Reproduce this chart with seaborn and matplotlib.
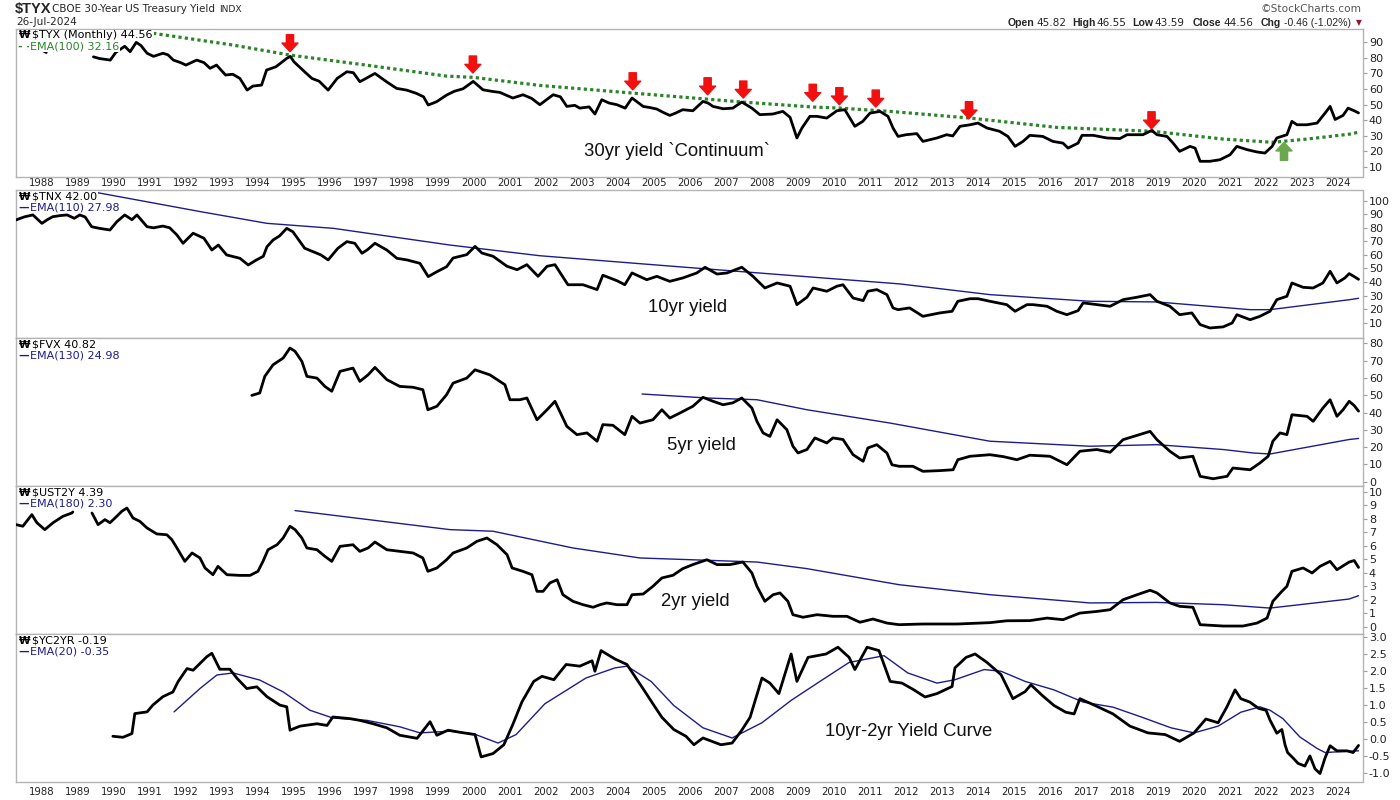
import matplotlib
matplotlib.use("Agg")
import matplotlib.pyplot as plt
import numpy as np
import pandas as pd
import seaborn as sns

# ---------------- data (decimal year, index value) ----------------
# $TYX x10
tyx_early_t = [1988.04, 1988.12]
tyx_early_v = [84.5, 83.5]
tyx_t = [1989.43, 1989.6, 1989.9, 1990.05, 1990.3, 1990.45, 1990.62, 1990.75, 1990.92, 1991.1,
         1991.36, 1991.5, 1991.65, 1991.85, 1992.0, 1992.3, 1992.5, 1992.67, 1992.85, 1993.1,
         1993.3, 1993.5, 1993.7, 1993.86, 1994.1, 1994.24, 1994.5, 1994.8, 1994.9, 1995.0,
         1995.3, 1995.5, 1995.7, 1995.95, 1996.2, 1996.47, 1996.65, 1996.83, 1997.0, 1997.25,
         1997.57, 1997.85, 1998.13, 1998.4, 1998.6, 1998.73, 1998.96, 1999.24, 1999.45, 1999.7,
         1999.98, 2000.25, 2000.5, 2000.72, 2000.9, 2001.08, 2001.36, 2001.6, 2001.83, 2002.2,
         2002.4, 2002.58, 2002.8, 2002.94, 2003.2, 2003.36, 2003.55, 2003.75, 2003.97, 2004.2,
         2004.39, 2004.7, 2004.9, 2005.08, 2005.25, 2005.44, 2005.6, 2005.8, 2006.08, 2006.36,
         2006.5, 2006.64, 2006.92, 2007.19, 2007.44, 2007.72, 2007.94, 2008.3, 2008.58, 2008.78,
         2008.97, 2009.11, 2009.33, 2009.53, 2009.8, 2010.08, 2010.3, 2010.58, 2010.8, 2011.0,
         2011.28, 2011.5, 2011.64, 2011.78, 2012.0, 2012.3, 2012.47, 2012.86, 2013.13, 2013.3,
         2013.5, 2013.78, 2014.0, 2014.25, 2014.6, 2014.83, 2015.03, 2015.25, 2015.44, 2015.8,
         2016.08, 2016.36, 2016.5, 2016.78, 2016.89, 2017.2, 2017.58, 2017.94, 2018.14, 2018.58,
         2018.83, 2018.97, 2019.25, 2019.42, 2019.6, 2019.89, 2020.03, 2020.17, 2020.44, 2020.72,
         2021.0, 2021.19, 2021.47, 2021.75, 2021.97, 2022.17, 2022.3, 2022.58, 2022.72, 2022.86,
         2023.14, 2023.42, 2023.64, 2023.78, 2023.92, 2024.14, 2024.28, 2024.45, 2024.57]
tyx_v = [80.7, 79.6, 78.6, 83.5, 87.5, 84.0, 90.0, 88.0, 83.0, 81.0,
         83.0, 82.0, 78.6, 77.0, 75.4, 78.6, 77.0, 73.3, 75.4, 69.0,
         69.5, 66.8, 59.3, 61.9, 62.5, 72.2, 74.3, 79.7, 81.0, 77.5,
         71.0, 66.8, 65.0, 59.3, 66.8, 71.1, 70.5, 64.7, 66.8, 70.0,
         64.7, 60.4, 59.3, 57.2, 55.0, 49.7, 51.8, 56.1, 58.5, 60.2,
         64.9, 59.5, 58.5, 57.8, 56.0, 54.2, 56.3, 54.0, 49.9, 56.3,
         55.0, 48.8, 49.5, 47.7, 48.5, 43.9, 53.1, 51.0, 49.9, 47.7,
         54.2, 48.8, 48.0, 47.1, 45.0, 43.0, 44.5, 46.7, 46.0, 52.0,
         51.0, 48.8, 47.3, 47.7, 51.6, 47.7, 43.5, 43.9, 45.6, 41.8,
         28.5, 34.9, 42.4, 42.4, 41.3, 46.0, 46.7, 36.0, 39.2, 44.5,
         45.6, 42.4, 34.9, 29.5, 30.6, 31.3, 26.3, 28.5, 30.6, 29.8,
         36.0, 37.0, 38.1, 34.9, 32.8, 29.5, 23.1, 26.3, 30.2, 29.5,
         26.3, 25.2, 22.0, 25.2, 30.2, 30.2, 28.5, 28.1, 30.6, 30.6,
         33.4, 30.6, 29.5, 25.2, 19.9, 23.1, 22.0, 13.5, 13.5, 14.5,
         17.7, 23.1, 21.0, 19.5, 18.8, 23.1, 28.5, 30.6, 39.2, 37.0,
         37.0, 38.1, 44.5, 48.8, 40.4, 43.0, 47.7, 46.0, 44.6]
tyx_ema_t = [1989.5, 1990.0, 1991.1, 1993.3, 1994.9, 1997.0, 1999.24, 1999.98, 2001.83, 2004.4,
             2006.47, 2007.47, 2009.42, 2010.17, 2011.56, 2013.78, 2016.19, 2018.86, 2020.81,
             2022.19, 2023.14, 2024.33, 2024.57]
tyx_ema_v = [99.5, 98.4, 95.8, 88.3, 81.8, 75.4, 68.3, 67.5, 62.3, 57.4,
             53.5, 51.6, 48.4, 47.7, 45.6, 41.3, 35.3, 32.8, 27.8,
             25.7, 27.8, 31.0, 32.2]

# red "rejection" arrows on the 30yr panel, green arrow for the 2022 break-out
arrow_t = [1994.89, 1999.97, 2004.41, 2006.49, 2007.48, 2009.41, 2010.15, 2011.16, 2013.75, 2018.82]
arrow_tip = [84.0, 70.3, 59.5, 56.3, 54.2, 52.1, 49.9, 48.4, 40.9, 34.4]
up_arrow_t = [2022.5]
up_arrow_tip = [25.7]

# $TNX x10
tnx_t = [1987.28, 1987.4, 1987.53, 1987.75, 1988.0, 1988.15, 1988.3, 1988.5, 1988.7, 1988.9,
         1989.05, 1989.2, 1989.38, 1989.6, 1989.89, 1990.08, 1990.3, 1990.5, 1990.64, 1990.92,
         1991.1, 1991.36, 1991.55, 1991.75, 1991.92, 1992.2, 1992.5, 1992.72, 1992.9, 1993.13,
         1993.5, 1993.73, 1993.96, 1994.15, 1994.25, 1994.42, 1994.6, 1994.8, 1994.97, 1995.3,
         1995.53, 1995.75, 1995.95, 1996.22, 1996.47, 1996.69, 1996.89, 1997.05, 1997.25, 1997.58,
         1997.86, 1998.14, 1998.5, 1998.73, 1998.97, 1999.24, 1999.42, 1999.8, 2000.03, 2000.22,
         2000.53, 2000.92, 2001.2, 2001.47, 2001.78, 2002.03, 2002.25, 2002.61, 2003.03, 2003.42,
         2003.58, 2003.97, 2004.19, 2004.39, 2004.8, 2005.08, 2005.44, 2005.8, 2006.19, 2006.42,
         2006.75, 2007.03, 2007.44, 2007.75, 2008.08, 2008.42, 2008.78, 2008.97, 2009.25, 2009.42,
         2009.8, 2010.08, 2010.25, 2010.53, 2010.81, 2010.94, 2011.19, 2011.47, 2011.64, 2011.78,
         2012.1, 2012.47, 2012.94, 2013.28, 2013.44, 2013.78, 2014.0, 2014.33, 2014.8, 2015.03,
         2015.36, 2015.53, 2015.92, 2016.19, 2016.47, 2016.78, 2016.92, 2017.3, 2017.67, 2018.03,
         2018.42, 2018.78, 2018.97, 2019.33, 2019.6, 2019.94, 2020.17, 2020.44, 2020.81, 2021.06,
         2021.19, 2021.56, 2021.83, 2022.11, 2022.3, 2022.58, 2022.72, 2023.03, 2023.31, 2023.58,
         2023.78, 2023.97, 2024.19, 2024.31, 2024.45, 2024.57]
tnx_v = [85.8, 87.0, 88.2, 89.5, 83.3, 86.0, 88.2, 89.0, 89.5, 87.0,
         89.5, 88.0, 80.8, 79.6, 78.4, 84.5, 89.5, 86.0, 89.5, 80.8,
         80.0, 81.3, 80.0, 74.7, 68.6, 76.0, 72.3, 63.6, 67.3, 60.0,
         57.5, 52.6, 56.3, 59.0, 66.0, 71.0, 74.0, 79.6, 77.1, 64.9,
         62.4, 60.0, 56.3, 64.9, 69.8, 68.6, 61.2, 64.0, 68.6, 63.6,
         57.5, 56.3, 53.8, 44.0, 47.6, 51.3, 57.7, 60.2, 66.3, 61.4,
         59.0, 51.6, 49.1, 52.8, 44.2, 51.6, 52.8, 38.0, 38.0, 34.4,
         45.0, 41.0, 38.0, 46.7, 41.7, 44.2, 40.5, 43.0, 46.7, 50.9,
         45.9, 46.7, 50.9, 44.2, 35.6, 39.3, 36.9, 23.3, 28.8, 35.6,
         33.2, 36.9, 38.0, 28.2, 26.3, 33.2, 34.4, 30.7, 20.9, 19.6,
         20.9, 14.7, 17.2, 18.4, 25.8, 27.7, 27.7, 25.8, 23.3, 18.4,
         23.3, 23.3, 22.1, 18.4, 15.9, 18.9, 24.6, 23.3, 22.1, 27.0,
         28.8, 30.7, 25.8, 22.1, 15.9, 17.2, 8.6, 6.1, 6.9, 9.8,
         15.9, 12.2, 14.7, 18.4, 27.0, 29.5, 39.3, 36.1, 35.6, 39.3,
         47.9, 39.3, 43.0, 46.2, 44.0, 42.0]
tnx_ema_t = [1987.28, 1989.14, 1992.39, 1994.25, 1996.1, 1999.33, 2001.83, 2005.53, 2011.83,
             2014.33, 2017.11, 2018.97, 2021.56, 2022.11, 2024.33, 2024.57]
tnx_ema_v = [116.0, 107.9, 92.0, 83.3, 79.6, 67.3, 59.4, 51.6, 38.6,
             30.7, 25.8, 25.3, 19.6, 19.6, 27.0, 28.0]

# $FVX x10
fvx_t = [1993.83, 1994.05, 1994.19, 1994.42, 1994.7, 1994.89, 1995.03, 1995.22, 1995.36, 1995.64,
         1995.86, 1996.05, 1996.28, 1996.64, 1996.83, 1997.06, 1997.25, 1997.58, 1997.94, 1998.31,
         1998.58, 1998.72, 1998.97, 1999.24, 1999.42, 1999.8, 2000.03, 2000.44, 2000.86, 2001.0,
         2001.28, 2001.47, 2001.75, 2002.03, 2002.25, 2002.58, 2002.86, 2003.14, 2003.42, 2003.58,
         2003.86, 2004.19, 2004.39, 2004.61, 2004.97, 2005.22, 2005.44, 2005.72, 2006.08, 2006.36,
         2006.64, 2006.92, 2007.19, 2007.44, 2007.72, 2007.86, 2008.03, 2008.22, 2008.42, 2008.69,
         2008.86, 2009.0, 2009.25, 2009.47, 2009.8, 2009.97, 2010.25, 2010.53, 2010.81, 2010.94,
         2011.19, 2011.47, 2011.61, 2011.81, 2012.19, 2012.47, 2012.94, 2013.31, 2013.44, 2013.78,
         2014.33, 2014.7, 2015.08, 2015.44, 2016.0, 2016.47, 2016.83, 2017.3, 2017.67, 2018.03,
         2018.42, 2018.78, 2018.97, 2019.33, 2019.6, 2019.97, 2020.17, 2020.53, 2020.92, 2021.08,
         2021.56, 2021.83, 2022.06, 2022.19, 2022.39, 2022.58, 2022.72, 2023.14, 2023.31, 2023.58,
         2023.78, 2023.97, 2024.14, 2024.31, 2024.45, 2024.57]
fvx_v = [49.9, 51.3, 60.9, 67.6, 71.5, 77.3, 75.4, 69.6, 60.9, 59.9,
         55.1, 52.3, 63.8, 65.7, 58.0, 61.8, 66.1, 59.0, 55.1, 54.6,
         53.2, 41.6, 43.6, 50.3, 57.0, 59.9, 64.7, 61.8, 56.1, 47.4,
         47.4, 48.4, 35.8, 41.6, 46.5, 32.0, 27.2, 28.2, 23.4, 33.0,
         32.6, 27.2, 37.8, 33.9, 35.8, 41.6, 36.8, 39.7, 43.6, 48.8,
         46.5, 44.5, 45.6, 48.4, 42.6, 34.9, 28.2, 26.2, 35.8, 30.1,
         20.5, 16.6, 18.6, 25.3, 22.4, 25.3, 24.4, 15.6, 11.8, 19.5,
         21.4, 16.6, 9.8, 8.9, 8.9, 6.0, 6.4, 6.9, 12.7, 14.7,
         15.6, 14.5, 12.7, 15.3, 14.7, 9.8, 17.6, 18.6, 17.0, 24.3,
         26.8, 29.1, 24.3, 17.6, 13.7, 14.7, 3.1, 1.7, 3.1, 7.9,
         6.9, 10.8, 14.7, 23.4, 28.2, 27.2, 38.7, 37.8, 34.9, 42.6,
         47.4, 37.8, 41.6, 46.5, 44.0, 40.8]
fvx_ema_t = [2004.67, 2006.47, 2007.86, 2009.25, 2011.56, 2014.33, 2017.11, 2018.97, 2020.81,
             2021.64, 2022.11, 2024.31, 2024.57]
fvx_ema_v = [50.7, 48.4, 47.4, 41.6, 33.9, 23.4, 20.5, 21.4, 18.6,
             16.6, 16.0, 24.4, 25.0]

# $UST2Y (%)
us2_early_t = [1987.28, 1987.47, 1987.72, 1987.86, 1988.08, 1988.31, 1988.58, 1988.83, 1988.86]
us2_early_v = [7.56, 7.44, 8.3, 7.7, 7.19, 7.7, 8.17, 8.42, 8.5]
us2_t = [1989.39, 1989.56, 1989.75, 1989.89, 1990.03, 1990.22, 1990.36, 1990.53, 1990.72, 1990.92,
         1991.19, 1991.47, 1991.61, 1991.75, 1991.97, 1992.17, 1992.39, 1992.53, 1992.75, 1992.89,
         1993.14, 1993.5, 1993.78, 1994.0, 1994.14, 1994.28, 1994.53, 1994.7, 1994.89, 1995.03,
         1995.22, 1995.36, 1995.64, 1995.86, 1996.05, 1996.28, 1996.64, 1996.83, 1997.06, 1997.25,
         1997.58, 1997.94, 1998.31, 1998.58, 1998.72, 1998.97, 1999.24, 1999.42, 1999.8, 2000.08,
         2000.36, 2000.64, 2000.92, 2001.06, 2001.36, 2001.61, 2001.75, 2001.92, 2002.11, 2002.31,
         2002.47, 2002.75, 2003.03, 2003.31, 2003.5, 2003.69, 2003.97, 2004.25, 2004.39, 2004.7,
         2004.97, 2005.22, 2005.53, 2005.8, 2006.08, 2006.47, 2006.75, 2007.11, 2007.47, 2007.72,
         2007.86, 2008.08, 2008.31, 2008.5, 2008.72, 2008.86, 2009.14, 2009.53, 2009.97, 2010.36,
         2010.72, 2011.08, 2011.47, 2011.81, 2012.47, 2013.42, 2014.33, 2014.8, 2015.44, 2015.92,
         2016.36, 2016.83, 2017.3, 2017.67, 2018.03, 2018.42, 2018.78, 2018.97, 2019.33, 2019.6,
         2019.97, 2020.17, 2020.81, 2021.36, 2021.75, 2022.03, 2022.19, 2022.44, 2022.58, 2022.72,
         2023.03, 2023.28, 2023.5, 2023.78, 2023.97, 2024.31, 2024.45, 2024.57]
us2_v = [8.42, 7.56, 7.93, 7.7, 8.05, 8.55, 8.79, 8.05, 7.8, 7.31,
         6.87, 6.81, 6.44, 5.83, 4.84, 5.46, 5.09, 4.35, 3.85, 4.47,
         3.85, 3.8, 3.8, 4.1, 4.84, 5.7, 6.07, 6.57, 7.44, 7.19,
         6.57, 5.83, 5.7, 5.21, 4.84, 5.95, 6.07, 5.58, 5.83, 6.27,
         5.7, 5.58, 5.46, 5.09, 4.1, 4.35, 4.96, 5.46, 5.83, 6.32,
         6.57, 6.07, 5.33, 4.35, 4.1, 3.85, 2.62, 2.62, 3.24, 3.48,
         2.37, 1.88, 1.63, 1.44, 1.63, 1.76, 1.63, 1.63, 2.37, 2.42,
         2.99, 3.61, 3.81, 4.3, 4.6, 4.96, 4.6, 4.6, 4.79, 3.98,
         2.99, 1.88, 2.37, 2.5, 1.88, 0.89, 0.7, 0.89, 0.77, 0.77,
         0.33, 0.57, 0.27, 0.15, 0.2, 0.2, 0.3, 0.44, 0.45, 0.64,
         0.52, 1.01, 1.13, 1.26, 2.0, 2.37, 2.7, 2.5, 1.76, 1.51,
         1.44, 0.15, 0.05, 0.05, 0.27, 0.64, 1.88, 2.62, 2.99, 4.1,
         4.35, 3.98, 4.47, 4.84, 4.22, 4.79, 4.9, 4.39]
us2_ema_t = [1995.03, 1999.33, 2000.53, 2002.75, 2004.61, 2006.47, 2007.86, 2009.25, 2011.81,
             2014.33, 2017.11, 2018.97, 2020.81, 2022.11, 2024.31, 2024.57]
us2_ema_v = [8.6, 7.19, 7.07, 5.83, 5.09, 4.92, 4.79, 4.3, 3.11,
             2.37, 1.76, 1.8, 1.63, 1.38, 2.05, 2.30]

# $YC2YR (10yr minus 2yr, %)
yc_t = [1989.97, 1990.25, 1990.5, 1990.58, 1990.92, 1991.08, 1991.36, 1991.64, 1991.78, 1992.03,
        1992.2, 1992.39, 1992.58, 1992.72, 1992.94, 1993.22, 1993.42, 1993.69, 1993.97, 1994.25,
        1994.61, 1994.8, 1994.89, 1995.17, 1995.64, 1995.92, 1996.08, 1996.56, 1996.83, 1997.2,
        1997.58, 1997.94, 1998.42, 1998.78, 1998.97, 1999.28, 1999.6, 2000.03, 2000.2, 2000.53,
        2000.83, 2001.08, 2001.33, 2001.66, 2001.89, 2002.22, 2002.56, 2002.94, 2003.28, 2003.36,
        2003.53, 2003.92, 2004.25, 2004.5, 2004.75, 2004.97, 2005.22, 2005.55, 2005.89, 2006.11,
        2006.36, 2006.86, 2007.17, 2007.42, 2007.67, 2008.0, 2008.22, 2008.47, 2008.81, 2008.97,
        2009.28, 2009.78, 2010.11, 2010.42, 2010.58, 2010.92, 2011.25, 2011.56, 2011.89, 2012.22,
        2012.53, 2012.86, 2013.28, 2013.36, 2013.67, 2013.92, 2014.25, 2014.64, 2014.97, 2015.31,
        2015.47, 2015.78, 2016.11, 2016.44, 2016.67, 2016.83, 2017.25, 2017.75, 2018.22, 2018.72,
        2019.2, 2019.6, 2020.0, 2020.33, 2020.67, 2020.91, 2021.14, 2021.3, 2021.55, 2021.8,
        2022.0, 2022.11, 2022.3, 2022.44, 2022.53, 2022.6, 2022.75, 2022.89, 2023.08, 2023.22,
        2023.36, 2023.5, 2023.64, 2023.78, 2023.97, 2024.25, 2024.42, 2024.57]
yc_v = [0.08, 0.05, 0.16, 0.75, 0.8, 1.0, 1.25, 1.39, 1.69, 2.08,
        2.03, 2.23, 2.43, 2.53, 2.06, 2.06, 1.79, 1.49, 1.54, 1.25,
        1.0, 0.95, 0.26, 0.38, 0.45, 0.4, 0.65, 0.6, 0.55, 0.45,
        0.33, 0.11, 0.02, 0.51, 0.11, 0.26, 0.2, 0.13, -0.53, -0.43,
        -0.17, 0.43, 1.09, 1.7, 1.85, 1.75, 2.2, 2.15, 2.31, 2.0,
        2.61, 2.36, 2.2, 1.8, 1.4, 1.04, 0.64, 0.28, 0.08, -0.17,
        0.03, -0.17, -0.12, 0.23, 0.64, 1.8, 1.65, 1.34, 2.51, 1.7,
        2.41, 2.51, 2.71, 2.41, 2.05, 2.71, 2.61, 1.7, 1.65, 1.45,
        1.24, 1.34, 1.55, 2.1, 2.41, 2.51, 2.26, 1.9, 1.19, 1.4,
        1.6, 1.29, 0.99, 0.79, 0.74, 1.19, 0.99, 0.74, 0.38, 0.18,
        0.13, -0.07, 0.18, 0.59, 0.48, 0.94, 1.45, 1.19, 1.09, 0.9,
        0.85, 0.56, 0.17, 0.28, -0.18, -0.4, -0.56, -0.72, -0.8, -0.5,
        -0.88, -1.02, -0.56, -0.2, -0.35, -0.35, -0.4, -0.19]
yc_ema_t = [1991.67, 1992.39, 1992.86, 1993.31, 1994.05, 1994.7, 1995.44, 1996.08, 1997.03, 1997.94,
            1998.5, 1999.33, 2000.0, 2000.67, 2001.17, 2001.97, 2003.11, 2003.92, 2004.25, 2004.92,
            2005.55, 2006.36, 2007.17, 2008.0, 2008.81, 2009.61, 2010.42, 2011.39, 2012.05, 2012.86,
            2013.36, 2014.17, 2014.64, 2015.31, 2016.11, 2016.92, 2017.75, 2018.56, 2019.36, 2020.0,
            2020.67, 2021.3, 2021.83, 2022.11, 2022.47, 2022.94, 2023.42, 2023.64, 2024.14, 2024.57]
yc_ema_v = [0.8, 1.49, 1.89, 1.95, 1.74, 1.39, 0.85, 0.62, 0.55, 0.36,
            0.18, 0.23, 0.15, -0.12, 0.13, 1.04, 1.8, 2.1, 2.15, 1.7,
            0.99, 0.33, 0.03, 0.48, 1.14, 1.7, 2.26, 2.46, 1.95, 1.65,
            1.75, 2.05, 2.0, 1.7, 1.45, 1.09, 0.94, 0.64, 0.33, 0.18,
            0.38, 0.79, 0.95, 0.85, 0.6, 0.06, -0.28, -0.4, -0.37, -0.35]

years = list(range(1988, 2025))

# ---------------- styling ----------------
sns.set_style("white")
plt.rcParams["font.family"] = ["DejaVu Sans"]

W_PX, H_PX = 1400, 800
BORDER = "#b4b4b4"
NAVY = "#1c1c8c"
GREEN = "#2a852a"

fig = plt.figure(figsize=(14, 8), dpi=100)


def px_axes(top, bottom, left=16, right=1362.5):
    return fig.add_axes([left / W_PX, 1 - bottom / H_PX,
                         (right - left) / W_PX, (bottom - top) / H_PX])


def ftext(x, y, s, **kw):
    kw.setdefault("va", "center")
    return fig.text(x / W_PX, 1 - y / H_PX, s, **kw)


def draw_price(ax, parts):
    df = pd.concat([pd.DataFrame({"year": t, "value": v, "unit": i})
                    for i, (t, v) in enumerate(parts)])
    sns.lineplot(data=df, x="year", y="value", units="unit", estimator=None,
                 color="black", lw=2.0, ax=ax, legend=False, zorder=3)


def draw_ema(ax, t, v, color=NAVY, **kw):
    sns.lineplot(x=t, y=v, color=color, ax=ax, legend=False, zorder=2, **kw)


def style_axes(ax, ylim, yticks, fmt="{:g}", xlabels=False, pad=1.5):
    ax.set_xlim(1987.28, 2024.68)
    ax.set_ylim(*ylim)
    ax.set_xlabel("")
    ax.set_ylabel("")
    ax.yaxis.tick_right()
    ax.set_yticks(yticks)
    ax.set_yticklabels([fmt.format(t) for t in yticks])
    ax.tick_params(axis="y", length=3, width=0.8, color="#9a9a9a",
                   labelsize=8, labelcolor="#222222", pad=1.5)
    if xlabels:
        ax.set_xticks(years)
        ax.set_xticklabels([str(y) for y in years])
        ax.tick_params(axis="x", length=0, labelsize=7.3,
                       labelcolor="#222222", pad=pad)
    else:
        ax.set_xticks([])
    for sp in ax.spines.values():
        sp.set_color(BORDER)
        sp.set_linewidth(1.0)


ax1 = px_axes(29, 177)
ax2 = px_axes(190, 338)
ax3 = px_axes(338, 486)
ax4 = px_axes(486, 634)
ax5 = px_axes(634, 782)

# panel 1: 30yr
draw_price(ax1, [(tyx_early_t, tyx_early_v), (tyx_t, tyx_v)])
draw_ema(ax1, tyx_ema_t, tyx_ema_v, color=GREEN, lw=2.3,
         linestyle=(0, (1.0, 1.0)), dash_capstyle="butt")
style_axes(ax1, (3.4, 98.6), list(range(10, 100, 10)), xlabels=True, pad=1.0)
ax1.spines["bottom"].set_linestyle((0, (1, 1)))

arrow_style = "simple,head_length=0.62,head_width=1.15,tail_width=0.52"
for t, tip in zip(arrow_t, arrow_tip):
    ax1.annotate("", xy=(t, tip), xytext=(0, 17), textcoords="offset pixels",
                 annotation_clip=False, zorder=5,
                 arrowprops=dict(arrowstyle=arrow_style, mutation_scale=10,
                                 color="#f01010", shrinkA=0, shrinkB=0))
for t, tip in zip(up_arrow_t, up_arrow_tip):
    ax1.annotate("", xy=(t, tip), xytext=(0, -18), textcoords="offset pixels",
                 annotation_clip=False, zorder=5,
                 arrowprops=dict(arrowstyle=arrow_style, mutation_scale=10,
                                 color="#6aa84f", shrinkA=0, shrinkB=0))

# panel 2: 10yr
draw_price(ax2, [(tnx_t, tnx_v)])
draw_ema(ax2, tnx_ema_t, tnx_ema_v, lw=1.0)
style_axes(ax2, (-1.3, 107.9), list(range(10, 101, 10)))
ax2.spines["top"].set_linestyle((0, (1, 1)))

# panel 3: 5yr
draw_price(ax3, [(fvx_t, fvx_v)])
draw_ema(ax3, fvx_ema_t, fvx_ema_v, lw=1.0)
style_axes(ax3, (-2.5, 83.1), list(range(0, 81, 10)))

# panel 4: 2yr
draw_price(ax4, [(us2_early_t, us2_early_v), (us2_t, us2_v)])
draw_ema(ax4, us2_ema_t, us2_ema_v, lw=1.0)
style_axes(ax4, (-0.54, 10.42), list(range(0, 11)))

# panel 5: 10yr-2yr curve
draw_price(ax5, [(yc_t, yc_v)])
draw_ema(ax5, yc_ema_t, yc_ema_v, lw=1.0)
style_axes(ax5, (-1.27, 3.1), list(np.arange(-1.0, 3.01, 0.5)), fmt="{:.1f}",
           xlabels=True, pad=3.5)
ax5.spines["bottom"].set_linestyle((0, (1, 1)))

# ---------------- panel legends ----------------
legends = [
    (29, "$TYX (Monthly) 44.56", "- -", "EMA(100) 32.16", GREEN),
    (190, "$TNX 42.00", "\u2014", "EMA(110) 27.98", NAVY),
    (338, "$FVX 40.82", "\u2014", "EMA(130) 24.98", NAVY),
    (486, "$UST2Y 4.39", "\u2014", "EMA(180) 2.30", NAVY),
    (634, "$YC2YR -0.19", "\u2014", "EMA(20) -0.35", NAVY),
]
box = dict(facecolor="white", edgecolor="none", pad=0.5)
for top, main, mark, ema, col in legends:
    ftext(19, top + 6.5, "\u20a9", fontsize=7.5, fontweight="bold", color="black", zorder=6)
    ftext(32.5, top + 6.5, main, fontsize=8, color="black", bbox=box, zorder=6)
    ftext(18.5, top + 17.5, mark, fontsize=8, fontweight="bold", color=col, zorder=6)
    ftext(30, top + 17.5, ema, fontsize=8, color=col, bbox=box, zorder=6)

# ---------------- in-panel captions ----------------
cap = dict(fontsize=13.3, family=["Liberation Sans", "DejaVu Sans"], ha="center", color="#111111")
ftext(677, 151, "30yr yield `Continuum`", **cap)
ftext(688, 308, "10yr yield", **cap)
ftext(701, 446, "5yr yield", **cap)
ftext(695, 601, "2yr yield", **cap)
ftext(909, 732, "10yr-2yr Yield Curve", **cap)

# ---------------- header ----------------
ftext(15, 9.5, "$TYX", fontsize=10.5, fontweight="bold",
      family=["Liberation Sans", "DejaVu Sans"])
ftext(52, 9.5, "CBOE 30-Year US Treasury Yield", fontsize=7.5)
ftext(219, 10, "INDX", fontsize=6.6)
ftext(16, 22.3, "26-Jul-2024", fontsize=7.6)
ftext(1362, 9.3, "\u00a9StockCharts.com", fontsize=7.6, ha="right", color="#555555")

lab = dict(fontsize=7.6, fontweight="bold", family=["Liberation Sans", "DejaVu Sans"])
val = dict(fontsize=7.6)
ftext(1007.7, 22.7, "Open", **lab)
ftext(1036, 22.7, "45.82", **val)
ftext(1072.7, 22.7, "High", **lab)
ftext(1096.7, 22.7, "46.55", **val)
ftext(1132.7, 22.7, "Low", **lab)
ftext(1154.7, 22.7, "43.59", **val)
ftext(1192.7, 22.7, "Close", **lab)
ftext(1223.3, 22.7, "44.56", **val)
ftext(1260.7, 22.7, "Chg", **lab)
ftext(1351.5, 22.7, "-0.46 (-1.02%)", fontsize=7.6, ha="right",
      family=["Liberation Sans", "DejaVu Sans"])
ftext(1356, 22.7, "\u25bc", fontsize=5.5, color="#8b1a2b")

fig.savefig("out.png", dpi=100)
